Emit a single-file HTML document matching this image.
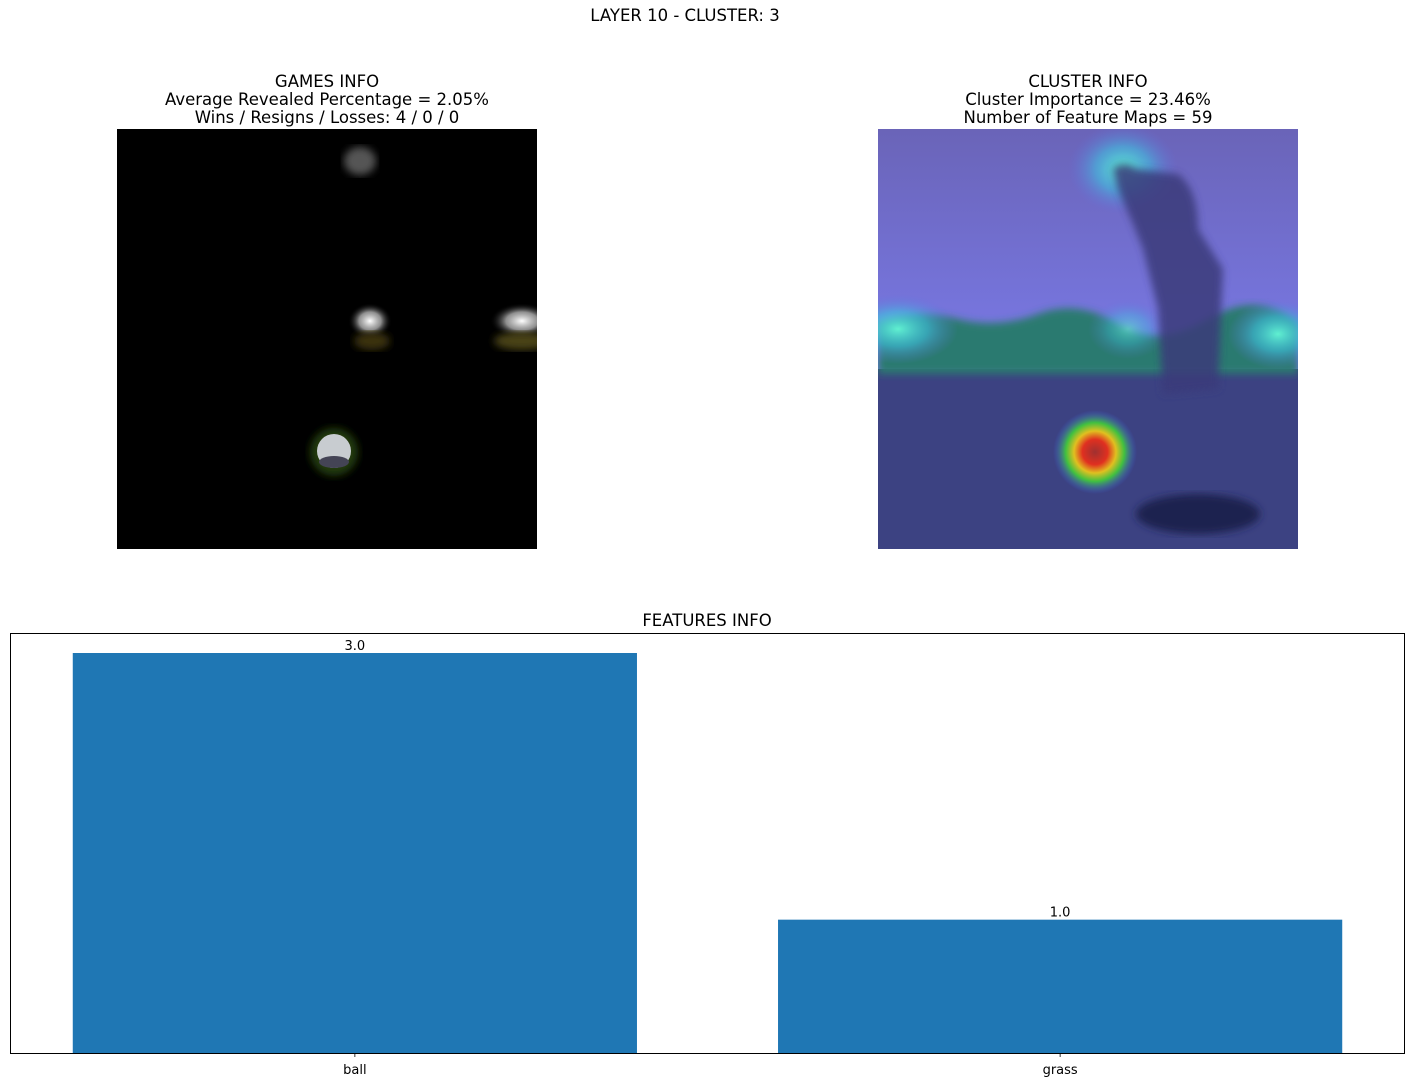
<!DOCTYPE html>
<html><head><meta charset="utf-8"><style>
body{margin:0;background:#fff;font-family:"Liberation Sans","DejaVu Sans",sans-serif;}
svg text{font-family:"DejaVu Sans","Liberation Sans",sans-serif;fill:#000}
</style></head><body>
<svg id="fig" width="1415" height="1087" xmlns="http://www.w3.org/2000/svg">
<defs>
<filter id="bl4"><feGaussianBlur stdDeviation="4"/></filter>
<radialGradient id="heat"><stop offset="0" stop-color="#a03030"/><stop offset="0.3" stop-color="#e03020"/><stop offset="0.5" stop-color="#e0c020"/><stop offset="0.7" stop-color="#40c040"/><stop offset="1" stop-color="#4060e0" stop-opacity="0"/></radialGradient>
<radialGradient id="cyan"><stop offset="0" stop-color="#60f0d0"/><stop offset="0.5" stop-color="#40c0e0" stop-opacity="0.6"/><stop offset="1" stop-color="#6070e0" stop-opacity="0"/></radialGradient>
<radialGradient id="wb"><stop offset="0" stop-color="#fff"/><stop offset="0.5" stop-color="#ccc" stop-opacity="0.7"/><stop offset="1" stop-color="#000" stop-opacity="0"/></radialGradient>
<linearGradient id="sky" x1="0" y1="0" x2="0" y2="1"><stop offset="0" stop-color="#6a64b8"/><stop offset="1" stop-color="#7a7ae8"/></linearGradient>
</defs>
<text x="685" y="21" font-size="16.5" text-anchor="middle">LAYER 10 - CLUSTER: 3</text>

<g>
<text x="327" y="87" font-size="16.5" text-anchor="middle">GAMES INFO</text>
<text x="327" y="105" font-size="16.5" text-anchor="middle">Average Revealed Percentage = 2.05%</text>
<text x="327" y="123" font-size="16.5" text-anchor="middle">Wins / Resigns / Losses: 4 / 0 / 0</text>
<svg x="117" y="129" width="420" height="420">
<rect width="420" height="420" fill="#000"/>
<ellipse cx="243" cy="32" rx="16" ry="14" fill="#555" filter="url(#bl4)"/>
<ellipse cx="253" cy="192" rx="22" ry="18" fill="url(#wb)"/>
<ellipse cx="255" cy="212" rx="18" ry="9" fill="#3a3210" filter="url(#bl4)"/>
<ellipse cx="405" cy="192" rx="32" ry="18" fill="url(#wb)"/>
<ellipse cx="405" cy="212" rx="28" ry="9" fill="#4a4214" filter="url(#bl4)"/>
<ellipse cx="217" cy="323" rx="24" ry="24" fill="#223a10" filter="url(#bl4)"/>
<circle cx="217" cy="322" r="17" fill="#c8ccd0"/>
<ellipse cx="217" cy="333" rx="15" ry="6" fill="#445"/>
</svg>
</g>

<g>
<text x="1088" y="87" font-size="16.5" text-anchor="middle">CLUSTER INFO</text>
<text x="1088" y="105" font-size="16.5" text-anchor="middle">Cluster Importance = 23.46%</text>
<text x="1088" y="123" font-size="16.5" text-anchor="middle">Number of Feature Maps = 59</text>
<svg x="878" y="129" width="420" height="420">
<rect width="420" height="245" fill="url(#sky)"/>
<rect y="240" width="420" height="180" fill="#3c4282"/>
<path d="M0 195 Q40 180 80 190 T160 185 T240 195 T330 190 T420 195 L420 245 L0 245Z" fill="#2a7a70" filter="url(#bl4)"/>
<ellipse cx="20" cy="200" rx="60" ry="35" fill="url(#cyan)"/>
<ellipse cx="400" cy="205" rx="50" ry="35" fill="url(#cyan)"/>
<ellipse cx="250" cy="200" rx="40" ry="30" fill="url(#cyan)" opacity="0.6"/>
<ellipse cx="245" cy="40" rx="55" ry="45" fill="url(#cyan)"/>
<path d="M235 40 Q245 30 258 40 L300 45 Q320 60 320 100 L345 140 L340 260 L285 265 L280 180 L265 120 L255 95 L240 60Z" fill="#3a3a7a" opacity="0.85" filter="url(#bl4)"/>
<ellipse cx="320" cy="385" rx="62" ry="20" fill="#1e2250" filter="url(#bl4)"/>
<circle cx="217" cy="323" r="42" fill="url(#heat)"/>
</svg>
</g>

<g id="barchart">
<text x="707" y="626" font-size="16.5" text-anchor="middle">FEATURES INFO</text>
</g>
</svg>
<script>
const categories = ["ball", "grass"];
const values = [3.0, 1.0];
const valueLabels = ["3.0", "1.0"];
const NS = "http://www.w3.org/2000/svg";
const g = document.getElementById("barchart");
const ax = {l:10, r:1405, t:633, b:1053};
const xmin = -0.489, xmax = 1.489;
const ymax = Math.max(...values) * 1.05;
const xs = v => ax.l + (v - xmin) / (xmax - xmin) * (ax.r - ax.l);
const ys = v => ax.b - v / ymax * (ax.b - ax.t);
function mk(tag, attrs){const e=document.createElementNS(NS,tag);for(const k in attrs)e.setAttribute(k,attrs[k]);g.appendChild(e);return e;}
categories.forEach((c,i)=>{
  const x0 = xs(i-0.4), x1 = xs(i+0.4);
  const r = mk("rect",{x:x0,y:ys(values[i]),width:x1-x0,height:ys(0)-ys(values[i]),fill:"#1f77b4"});
  
  
  const t = mk("text",{x:xs(i),y:ys(values[i])-3,"font-size":"13","text-anchor":"middle"});
  t.textContent = valueLabels[i];
  
  
  const tk = mk("line",{x1:xs(i),x2:xs(i),y1:ax.b,y2:ax.b+4,stroke:"#000","stroke-width":"0.8"});
  
  
  const tl = mk("text",{x:xs(i),y:ax.b+21,"font-size":"13","text-anchor":"middle"});
  tl.textContent = c;
  
  
});
const fr = mk("rect",{x:ax.l+0.5,y:ax.t+0.5,width:ax.r-ax.l-1,height:ax.b-ax.t,fill:"none",stroke:"#000","stroke-width":"1"});


</script>
</body></html>
